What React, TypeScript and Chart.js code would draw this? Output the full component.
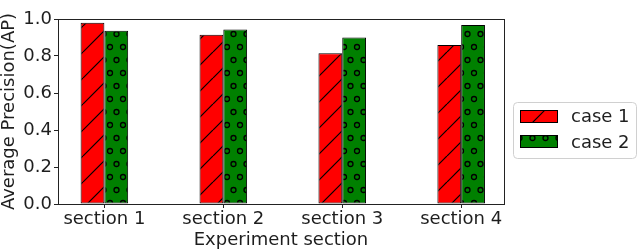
import React, { useEffect, useRef } from 'react';
import { Chart, registerables } from 'chart.js';

Chart.register(...registerables);

const categories = ['section 1', 'section 2', 'section 3', 'section 4'];
const seriesNames = ['case 1', 'case 2'];
const case1 = [0.98, 0.915, 0.815, 0.86];
const case2 = [0.937, 0.943, 0.9, 0.968];
const yTicks = [0, 0.2, 0.4, 0.6, 0.8, 1.0];
const xTitle = 'Experiment section';
const yTitle = 'Average Precision(AP)';

const FONT = 'DejaVu Sans';
const TEXT = '#1e1e1e';

function makeHatch(ctx: CanvasRenderingContext2D, bg: string): CanvasPattern | string {
  const s = 26;
  const c = document.createElement('canvas');
  c.width = s;
  c.height = s;
  const g = c.getContext('2d')!;
  g.fillStyle = bg;
  g.fillRect(0, 0, s, s);
  g.strokeStyle = '#000';
  g.lineWidth = 1.2;
  for (let k = -1; k <= 1; k++) {
    g.beginPath();
    g.moveTo(k * s, s);
    g.lineTo(k * s + s, 0);
    g.stroke();
  }
  const p = ctx.createPattern(c, 'repeat');
  if (!p) return bg;
  p.setTransform(new DOMMatrix().translateSelf(5, 0));
  return p;
}

function makeCircles(ctx: CanvasRenderingContext2D, bg: string): CanvasPattern | string {
  const w = 13;
  const h = 26;
  const c = document.createElement('canvas');
  c.width = w;
  c.height = h;
  const g = c.getContext('2d')!;
  g.fillStyle = bg;
  g.fillRect(0, 0, w, h);
  g.strokeStyle = '#000';
  g.lineWidth = 1.3;
  const pts = [
    [0, 0], [w, 0], [0, h], [w, h], [w / 2, h / 2],
  ];
  for (const [x, y] of pts) {
    g.beginPath();
    g.arc(x, y, 2.5, 0, Math.PI * 2);
    g.stroke();
  }
  const p = ctx.createPattern(c, 'repeat');
  if (!p) return bg;
  p.setTransform(new DOMMatrix().translateSelf(6, 21));
  return p;
}

export default function App() {
  const ref = useRef<HTMLCanvasElement>(null);

  useEffect(() => {
    document.body.style.margin = '0';
    const canvas = ref.current!;
    const ctx = canvas.getContext('2d')!;
    const redFill = makeHatch(ctx, '#ff0000');
    const greenFill = makeCircles(ctx, '#008000');
    const fills = [redFill, greenFill];

    const framePlugin = {
      id: 'frameAndLegend',
      afterDraw(chart: any) {
        const c = chart.ctx as CanvasRenderingContext2D;
        const a = chart.chartArea;
        c.save();
        c.strokeStyle = '#222';
        c.lineWidth = 1;
        c.strokeRect(a.left + 0.5, a.top + 0.5, a.right - a.left, a.bottom - a.top);

        // legend box
        const lx = 513.5, ly = 102.5, lw = 123, lh = 56, r = 4;
        c.beginPath();
        c.moveTo(lx + r, ly);
        c.lineTo(lx + lw - r, ly);
        c.quadraticCurveTo(lx + lw, ly, lx + lw, ly + r);
        c.lineTo(lx + lw, ly + lh - r);
        c.quadraticCurveTo(lx + lw, ly + lh, lx + lw - r, ly + lh);
        c.lineTo(lx + r, ly + lh);
        c.quadraticCurveTo(lx, ly + lh, lx, ly + lh - r);
        c.lineTo(lx, ly + r);
        c.quadraticCurveTo(lx, ly, lx + r, ly);
        c.closePath();
        c.fillStyle = 'rgba(255,255,255,0.8)';
        c.fill();
        c.strokeStyle = '#d0d0d0';
        c.stroke();

        const rows = [110, 135];
        const textY = [117.5, 143];
        seriesNames.forEach((name, i) => {
          c.fillStyle = fills[i] as any;
          c.fillRect(520, rows[i], 38, 13);
          c.strokeStyle = '#000';
          c.strokeRect(520.5, rows[i] + 0.5, 37, 12);
          c.fillStyle = TEXT;
          c.font = `18px "${FONT}"`;
          c.textBaseline = 'middle';
          c.textAlign = 'left';
          c.fillText(name, 571, textY[i]);
        });
        c.restore();
      },
    };

    const chart = new Chart(canvas, {
      type: 'bar',
      data: {
        datasets: [
          {
            label: seriesNames[0],
            data: case1.map((v, i) => ({ x: i, y: v })),
            backgroundColor: redFill as any,
            borderColor: '#000',
            borderWidth: 1,
            borderSkipped: false,
            categoryPercentage: 0.4,
            barPercentage: 1,
          },
          {
            label: seriesNames[1],
            data: case2.map((v, i) => ({ x: i, y: v })),
            backgroundColor: greenFill as any,
            borderColor: '#000',
            borderWidth: 1,
            borderSkipped: false,
            categoryPercentage: 0.4,
            barPercentage: 1,
          },
        ],
      },
      options: {
        animation: false,
        responsive: false,
        maintainAspectRatio: false,
        layout: { padding: { left: 0, right: 136, top: 19, bottom: 0 } },
        plugins: {
          legend: { display: false },
          tooltip: { enabled: false },
        },
        scales: {
          x: {
            type: 'linear',
            offset: false,
            min: -0.39,
            max: 3.36,
            afterBuildTicks: (s: any) => {
              s.ticks = categories.map((_, i) => ({ value: i }));
            },
            afterFit: (s: any) => {
              s.height = 48;
            },
            ticks: {
              autoSkip: false,
              maxRotation: 0,
              padding: 1,
              color: TEXT,
              font: { family: FONT, size: 18 },
              callback: (v: any) => categories[Math.round(Number(v))] ?? '',
            },
            grid: {
              offset: false,
              drawOnChartArea: false,
              drawTicks: true,
              tickLength: 4,
              color: '#222',
            },
            border: { display: false },
            title: {
              display: true,
              text: xTitle,
              color: TEXT,
              font: { family: FONT, size: 18, lineHeight: 1 },
              padding: { top: 0, bottom: 3 },
            },
          },
          y: {
            type: 'linear',
            min: 0,
            max: 1,
            afterBuildTicks: (s: any) => {
              s.ticks = yTicks.map((v) => ({ value: v }));
            },
            afterFit: (s: any) => {
              s.width = 58;
            },
            ticks: {
              padding: 2,
              color: TEXT,
              font: { family: FONT, size: 18 },
              callback: (v: any) => Number(v).toFixed(1),
            },
            grid: {
              drawOnChartArea: false,
              drawTicks: true,
              tickLength: 4,
              color: '#222',
            },
            border: { display: false },
            title: {
              display: true,
              text: yTitle,
              color: TEXT,
              font: { family: FONT, size: 18, lineHeight: 1 },
              padding: 0,
            },
          },
        },
      },
      plugins: [framePlugin],
    });

    return () => chart.destroy();
  }, []);

  return (
    <div style={{ width: 640, height: 252 }}>
      <canvas ref={ref} width={640} height={252} style={{ display: 'block', width: 640, height: 252 }} />
    </div>
  );
}
